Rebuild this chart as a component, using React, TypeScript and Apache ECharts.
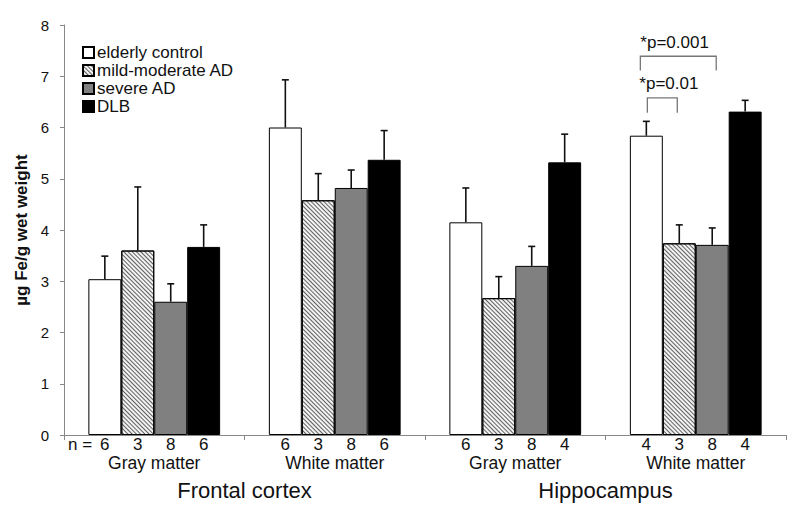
import React, { useEffect, useRef } from "react";
import * as echarts from "echarts";

const subgroups = ["Gray matter", "White matter", "Gray matter", "White matter"];
const regions = ["Frontal cortex", "Hippocampus"];
const groupNames = ["elderly control", "mild-moderate AD", "severe AD", "DLB"];

const elderlyControl = [3.04, 6.0, 4.15, 5.84];
const mildModerateAD = [3.6, 4.58, 2.67, 3.74];
const severeAD = [2.6, 4.82, 3.3, 3.71];
const dlb = [3.67, 5.37, 5.32, 6.31];

const elderlyErr = [0.45, 0.93, 0.67, 0.28];
const mildErr = [1.24, 0.52, 0.42, 0.36];
const severeErr = [0.35, 0.35, 0.38, 0.33];
const dlbErr = [0.43, 0.57, 0.55, 0.22];

const elderlyN = [6, 6, 6, 4];
const mildN = [3, 3, 3, 3];
const severeN = [8, 8, 8, 8];
const dlbN = [6, 6, 4, 4];

const yTicks = [0, 8, 1];

const FONT = '"Liberation Sans", Arial, sans-serif';
const CAT_GAP = 0.27;

const values = [elderlyControl, mildModerateAD, severeAD, dlb];
const errors = [elderlyErr, mildErr, severeErr, dlbErr];
const counts = [elderlyN, mildN, severeN, dlbN];

const hatchDecal = {
  symbol: "rect",
  symbolSize: 1,
  color: "rgba(0,0,0,0.6)",
  dashArrayX: [1, 0],
  dashArrayY: [1, 2],
  rotation: Math.PI / 4,
};

const styles = [
  { color: "#ffffff", borderColor: "#000", borderWidth: 1 },
  { color: "#f2f2f2", borderColor: "#000", borderWidth: 1, decal: hatchDecal },
  { color: "#808080", borderColor: "#000", borderWidth: 1 },
  { color: "#000000", borderColor: "#000", borderWidth: 1 },
];

export default function App() {
  const ref = useRef<HTMLDivElement>(null);
  useEffect(() => {
    if (!ref.current) return;
    const chart = echarts.init(ref.current, null, { renderer: "svg" });

    const barSeries = groupNames.map((name, s) => ({
      name,
      type: "bar",
      data: values[s],
      barGap: "0%",
      barCategoryGap: CAT_GAP * 100 + "%",
      itemStyle: styles[s],
      label: {
        show: true,
        position: "bottom",
        distance: 2,
        fontFamily: FONT,
        fontSize: 17,
        lineHeight: 14,
        color: "#111",
        formatter: (p: any) => String(counts[s][p.dataIndex]),
      },
      emphasis: { disabled: true },
    }));

    const errData: number[][] = [];
    values.forEach((arr, s) =>
      arr.forEach((v, c) => errData.push([c, v, errors[s][c], s]))
    );

    chart.setOption({
      animation: false,
      textStyle: { fontFamily: FONT },
      grid: { left: 64, right: 14, top: 25, bottom: 79 },
      legend: {
        orient: "vertical",
        left: 77,
        top: 39,
        itemWidth: 11,
        itemHeight: 11,
        itemGap: 1,
        icon: "rect",
        selectedMode: false,
        textStyle: { fontFamily: FONT, fontSize: 17, color: "#111", padding: [0, 0, 0, -2] },
        data: groupNames,
      },
      xAxis: [
        {
          type: "category",
          data: subgroups,
          position: "bottom",
          axisLine: { lineStyle: { color: "#888", width: 1 } },
          axisTick: { show: true, length: 5, lineStyle: { color: "#888" } },
          axisLabel: { margin: 21, fontFamily: FONT, fontSize: 17.5, lineHeight: 14, color: "#111" },
        },
        {
          type: "category",
          data: regions,
          position: "bottom",
          axisLine: { show: false },
          axisTick: { show: false },
          axisLabel: { margin: 44, fontFamily: FONT, fontSize: 22, color: "#111" },
        },
      ],
      yAxis: {
        type: "value",
        min: yTicks[0],
        max: yTicks[1],
        interval: yTicks[2],
        name: "µg Fe/g wet weight",
        nameLocation: "middle",
        nameGap: 29,
        nameTextStyle: { fontFamily: FONT, fontSize: 17, fontWeight: "bold", color: "#111" },
        axisLine: { show: true, lineStyle: { color: "#888" } },
        axisTick: { show: true, length: 4, lineStyle: { color: "#888" } },
        axisLabel: { margin: 15, fontFamily: FONT, fontSize: 15, color: "#111" },
        splitLine: { show: false },
      },
      series: [
        ...barSeries,
        {
          type: "custom",
          silent: true,
          z: 5,
          data: errData,
          encode: { x: 0, y: 1 },
          renderItem: (params: any, api: any) => {
            const c = api.value(0);
            const v = api.value(1);
            const e = api.value(2);
            const s = api.value(3);
            const band = api.size([1, 0])[0];
            const bw = (band * (1 - CAT_GAP)) / 4;
            const base = api.coord([c, v]);
            const top = api.coord([c, v + e]);
            const x = base[0] + (s - 1.5) * bw;
            const st = { stroke: "#111", lineWidth: 1.6 };
            return {
              type: "group",
              children: [
                { type: "line", shape: { x1: x, y1: base[1], x2: x, y2: top[1] }, style: st },
                { type: "line", shape: { x1: x - 3.5, y1: top[1], x2: x + 3.5, y2: top[1] }, style: st },
              ],
            };
          },
        },
      ],
    });

    // annotations
    const band = (chart.convertToPixel({ xAxisIndex: 0 }, 1) as number) - (chart.convertToPixel({ xAxisIndex: 0 }, 0) as number);
    const bw = (band * (1 - CAT_GAP)) / 4;
    const barX = (c: number, s: number) =>
      (chart.convertToPixel({ xAxisIndex: 0 }, c) as number) + (s - 1.5) * bw;
    const py = (v: number) => chart.convertToPixel({ yAxisIndex: 0 }, v) as number;
    const brStyle = { stroke: "#777", lineWidth: 1.3, fill: null };
    const bracket = (x1: number, x2: number, yTop: number, yBot: number) => ({
      type: "polyline",
      shape: { points: [[x1, py(yBot)], [x1, py(yTop)], [x2, py(yTop)], [x2, py(yBot)]] },
      style: brStyle,
    });
    const gx = barX(3, 0);
    chart.setOption({
      graphic: [
        bracket(barX(3, 0) + 1, barX(3, 1) - 2, 6.58, 6.29),
        bracket(barX(3, 0) - 6, barX(3, 2) + 4, 7.39, 7.11),
        {
          type: "text",
          x: gx - 7,
          y: py(6.85),
          style: { text: "*p=0.01", font: `17px ${FONT}`, fill: "#111", verticalAlign: "middle" },
        },
        {
          type: "text",
          x: gx - 6,
          y: py(7.65),
          style: { text: "*p=0.001", font: `17px ${FONT}`, fill: "#111", verticalAlign: "middle" },
        },
        {
          type: "text",
          x: 68,
          y: 444,
          style: { text: "n =", font: `17px ${FONT}`, fill: "#111", verticalAlign: "middle", lineHeight: 14 },
        },
      ],
    });

    return () => chart.dispose();
  }, []);
  return <div ref={ref} style={{ width: 800, height: 514, position: "absolute", left: 0, top: 0 }} />;
}
